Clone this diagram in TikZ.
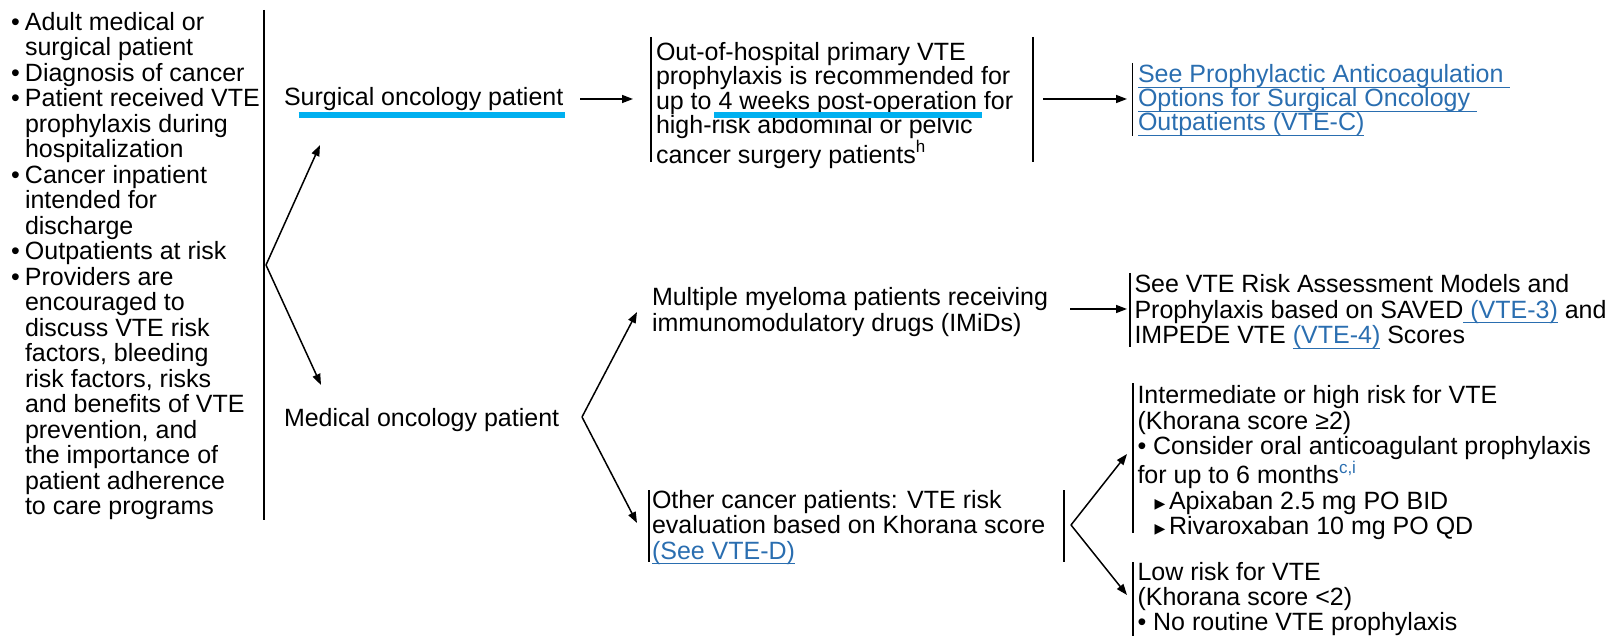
\documentclass[tikz,border=0pt]{standalone}
\usepackage{fontspec}
\setmainfont{Liberation Sans}
\newfontfamily\symfont{DejaVu Sans}
\usetikzlibrary{arrows.meta}
\definecolor{linkblue}{HTML}{2A6EB0}
\definecolor{hlcyan}{HTML}{00B0F0}
\newcommand\ulk[1]{\leavevmode\setbox0\hbox{#1}\rlap{\rule[-5pt]{\wd0}{1.3pt}}\box0}
\newcommand\lnk[1]{\leavevmode{\color{linkblue}\ulk{#1}}}
\newcommand\bul{\makebox[14pt][l]{•}}
\newcommand\ind{\hspace*{14pt}}
\newcommand\tri{\makebox[14.5pt][l]{\raisebox{1pt}{\symfont\fontsize{14}{14}\selectfont ▶}}}
\newcommand\sups[1]{\raisebox{10.5pt}{\fontsize{17}{17}\selectfont #1}}
\newcommand\tbox[3]{\parbox[t]{#1}{\raggedright\fontsize{25}{#2}\selectfont #3}}
\begin{document}
\begin{tikzpicture}[x=1pt,y=-1pt,
  txt/.style={anchor=base west,inner sep=0pt,outer sep=0pt,font=\fontsize{25}{25}\selectfont},
  arr/.style={-{Triangle[length=11pt,width=8pt]},line width=1.5pt},
  bar/.style={line width=1.3pt},
  hl/.style={hlcyan,line width=6pt}]
\useasboundingbox (0,0) rectangle (1606,636);
% texts
\node[txt] (crit) at (11,30.5) {\tbox{300pt}{25.5pt}{\bul Adult medical or\\\ind surgical patient\\\bul Diagnosis of cancer\\\bul Patient received VTE\\\ind prophylaxis during\\\ind hospitalization\\\bul Cancer inpatient\\\ind intended for\\\ind discharge\\\bul Outpatients at risk\\\bul Providers are\\\ind encouraged to\\\ind discuss VTE risk\\\ind factors, bleeding\\\ind risk factors, risks\\\ind and benefits of VTE\\\ind prevention, and\\\ind the importance of\\\ind patient adherence\\\ind to care programs}};
\node[txt] (surg) at (284,106) {Surgical oncology patient};
\node[txt] (med) at (284,426) {Medical oncology patient};
\node[txt] (outh) at (656,60.5) {\tbox{500pt}{24.5pt}{Out-of-hospital primary VTE\\prophylaxis is recommended for\\up to 4 weeks post-operation for\\high-risk abdominal or pelvic\\cancer surgery patients\sups{h}}};
\node[txt] (seeprop) at (1138,83) {\tbox{600pt}{24pt}{\lnk{See Prophylactic Anticoagulation }\\\lnk{Options for Surgical Oncology }\\\lnk{Outpatients (VTE-C)}}};
\node[txt] (mm) at (652,305.5) {\tbox{600pt}{25.5pt}{Multiple myeloma patients receiving\\immunomodulatory drugs (IMiDs)}};
\node[txt] (seerisk) at (1134.5,293) {\tbox{600pt}{25.5pt}{See VTE Risk Assessment Models and\\Prophylaxis based on SAVED\lnk{ (VTE-3)} and\\IMPEDE VTE \lnk{(VTE-4)} Scores}};
\node[txt] (other) at (652,508.5) {\tbox{600pt}{25.3pt}{Other cancer patients: VTE risk\\evaluation based on Khorana score\\\lnk{(See VTE-D)}}};
\node[txt] (high) at (1137.5,403.5) {\tbox{600pt}{25.5pt}{Intermediate or high risk for VTE\\(Khorana score ≥2)\\• Consider oral anticoagulant prophylaxis\\for up to 6 months{\color{linkblue}\sups{c,i}}\\\hspace*{17pt}\tri Apixaban 2.5 mg PO BID\\\hspace*{17pt}\tri Rivaroxaban 10 mg PO QD}};
\node[txt] (low) at (1137.5,580) {\tbox{600pt}{25pt}{Low risk for VTE\\(Khorana score <2)\\• No routine VTE prophylaxis}};
% bars
\draw[bar] (264,10) -- (264,520);
\draw[bar] (651,37) -- (651,162);
\draw[bar] (1033,37) -- (1033,162);
\draw[bar] (1132.5,63) -- (1132.5,136);
\draw[bar] (1130,273) -- (1130,347);
\draw[bar] (649,490) -- (649,562);
\draw[bar] (1064,490) -- (1064,562);
\draw[bar] (1133,383) -- (1133,533);
\draw[bar] (1133,562) -- (1133,636);
% highlight bars
\draw[hl] (298.5,115) -- (565,115);
\draw[hl] (714,115) -- (982,115);
% connector coordinates
\coordinate (f1) at (266,265);
\coordinate (t1a) at (320,145);
\coordinate (t1b) at (321,385);
\coordinate (s1) at (580,99);
\coordinate (s1e) at (633,99);
\coordinate (s2) at (1043,99);
\coordinate (s2e) at (1127,99);
\coordinate (f2) at (582,417);
\coordinate (t2a) at (637,312);
\coordinate (t2b) at (637,523);
\coordinate (s3) at (1070,309);
\coordinate (s3e) at (1127,309);
\coordinate (f3) at (1071,525);
\coordinate (t3a) at (1127,454);
\coordinate (t3b) at (1127,595);
\draw[arr] (f1) -- (t1a);
\draw[arr] (f1) -- (t1b);
\draw[arr] (s1) -- (s1e);
\draw[arr] (s2) -- (s2e);
\draw[arr] (f2) -- (t2a);
\draw[arr] (f2) -- (t2b);
\draw[arr] (s3) -- (s3e);
\draw[arr] (f3) -- (t3a);
\draw[arr] (f3) -- (t3b);
\end{tikzpicture}
\end{document}
